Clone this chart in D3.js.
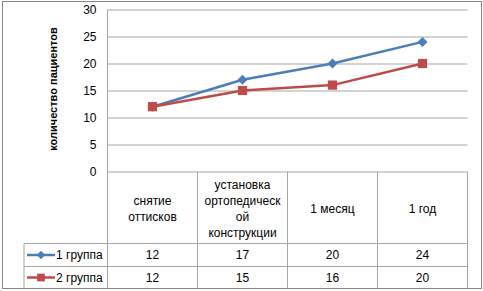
<!DOCTYPE html>
<html>
<head>
<meta charset="utf-8">
<script src="https://cdn.jsdelivr.net/npm/d3@7"></script>
<style>
  body { margin: 0; background: #fff; }
  text { font-family: 'Liberation Sans', Arial, sans-serif; fill: #000; }
</style>
</head>
<body>
<div id="chart"></div>
<script>
const CATEGORIES = [
        ['снятие', 'оттисков'],
        ['установка', 'ортопедическ', 'ой', 'конструкции'],
        ['1 месяц'],
        ['1 год']
      ],
      SERIES_NAMES = ['1 группа', '2 группа'],
      GROUP_1 = [12, 17, 20, 24],
      GROUP_2 = [12, 15, 16, 20],
      Y_TICKS = [0, 5, 10, 15, 20, 25, 30],
      Y_TITLE = 'количество пациентов',
      COLORS = ['#4A7EBB', '#BE4B48'],
      SIZE = Object.freeze({ WIDTH: 483, HEIGHT: 291 }),
      PLOT = Object.freeze({ LEFT: 107.5, RIGHT: 467.5, TOP: 9.5, BOTTOM: 171.5 }),
      TABLE = Object.freeze({ LEFT: 24, HEADER_BOTTOM: 243.5, ROW_BOTTOM: 266.5, BOTTOM: 288.5 }),
      GRID_COLOR = '#a6a6a6'

// diamond = square turned 45deg, square stays upright
const series = [GROUP_1, GROUP_2].map((values, i) => ({
  name: SERIES_NAMES[i],
  color: COLORS[i],
  rotate: i === 0 ? 45 : 0,
  size: i === 0 ? 50 : 85,
  values
}))

const xScale = d3.scaleBand()
        .domain(CATEGORIES.map((_, i) => i))
        .range([PLOT.LEFT, PLOT.RIGHT]),
      yScale = d3.scaleLinear()
        .domain([0, 30])
        .range([PLOT.BOTTOM, PLOT.TOP])

const xMid = i => xScale(i) + xScale.bandwidth() / 2

const svg = d3.select('#chart')
  .append('svg')
  .attr('width', SIZE.WIDTH)
  .attr('height', SIZE.HEIGHT)

// outer frame
svg.append('rect')
  .attr('x', 2.5)
  .attr('y', 1.5)
  .attr('width', 479)
  .attr('height', 287)
  .attr('fill', 'none')
  .attr('stroke', '#868686')
  .attr('stroke-width', 1)

// gridlines and y labels
const yAxis = d3.axisLeft(yScale)
  .tickValues(Y_TICKS)
  .tickSize(-(PLOT.RIGHT - PLOT.LEFT))
  .tickPadding(11)

const yAxisG = svg.append('g')
  .attr('transform', `translate(${PLOT.LEFT}, 0)`)
  .call(yAxis)
yAxisG.select('.domain').remove()
yAxisG.selectAll('line').attr('stroke', GRID_COLOR)
yAxisG.selectAll('text')
  .style('font-family', "'Liberation Sans', Arial, sans-serif")
  .style('font-size', '12px')
  .attr('fill', '#000')

svg.append('text')
  .attr('transform', `translate(57, 89) rotate(-90)`)
  .attr('text-anchor', 'middle')
  .style('font-size', '11px')
  .style('font-weight', 'bold')
  .text(Y_TITLE)

// data table lines
const tableLines = svg.append('g')
  .attr('stroke', GRID_COLOR)
  .attr('stroke-width', 1)

tableLines.append('line')
  .attr('x1', PLOT.LEFT).attr('x2', PLOT.LEFT)
  .attr('y1', PLOT.TOP).attr('y2', TABLE.BOTTOM)

CATEGORIES.forEach((_, i) => {
  const x = xScale(i) + xScale.bandwidth()
  tableLines.append('line')
    .attr('x1', x).attr('x2', x)
    .attr('y1', PLOT.BOTTOM).attr('y2', TABLE.BOTTOM)
})

;[TABLE.HEADER_BOTTOM, TABLE.ROW_BOTTOM].forEach(y => {
  tableLines.append('line')
    .attr('x1', TABLE.LEFT).attr('x2', PLOT.RIGHT)
    .attr('y1', y).attr('y2', y)
})

tableLines.append('line')
  .attr('x1', TABLE.LEFT).attr('x2', TABLE.LEFT)
  .attr('y1', TABLE.HEADER_BOTTOM).attr('y2', TABLE.BOTTOM)

// header labels
const headerMid = 209
CATEGORIES.forEach((lines, i) => {
  const t = svg.append('text')
    .attr('text-anchor', 'middle')
    .style('font-size', '12px')
  lines.forEach((line, j) => {
    t.append('tspan')
      .attr('x', xMid(i))
      .attr('y', headerMid + (j - (lines.length - 1) / 2) * 16)
      .attr('dy', '0.35em')
      .text(line)
  })
})

// table rows
const rowMids = [(TABLE.HEADER_BOTTOM + TABLE.ROW_BOTTOM) / 2, (TABLE.ROW_BOTTOM + TABLE.BOTTOM) / 2]

series.forEach((s, r) => {
  const y = rowMids[r]
  svg.append('line')
    .attr('x1', 27).attr('x2', 55)
    .attr('y1', y).attr('y2', y)
    .attr('stroke', s.color)
    .attr('stroke-width', 2.5)
  svg.append('path')
    .attr('d', d3.symbol(d3.symbolSquare, s.size * 0.7)())
    .attr('transform', `translate(41, ${y}) rotate(${s.rotate})`)
    .attr('fill', s.color)
  svg.append('text')
    .attr('x', 56)
    .attr('y', y)
    .attr('dy', '0.35em')
    .style('font-size', '12px')
    .text(s.name)
  s.values.forEach((v, i) => {
    svg.append('text')
      .attr('x', xMid(i))
      .attr('y', y)
      .attr('dy', '0.35em')
      .attr('text-anchor', 'middle')
      .style('font-size', '12px')
      .text(v)
  })
})

// lines and markers
const line = d3.line()
  .x((_, i) => xMid(i))
  .y(d => yScale(d))

series.forEach(s => {
  svg.append('path')
    .datum(s.values)
    .attr('d', line)
    .attr('fill', 'none')
    .attr('stroke', s.color)
    .attr('stroke-width', 2.5)
  svg.selectAll(null)
    .data(s.values)
    .enter()
    .append('path')
    .attr('d', d3.symbol(d3.symbolSquare, s.size)())
    .attr('transform', (d, i) => `translate(${xMid(i)}, ${yScale(d)}) rotate(${s.rotate})`)
    .attr('fill', s.color)
})
</script>
</body>
</html>
